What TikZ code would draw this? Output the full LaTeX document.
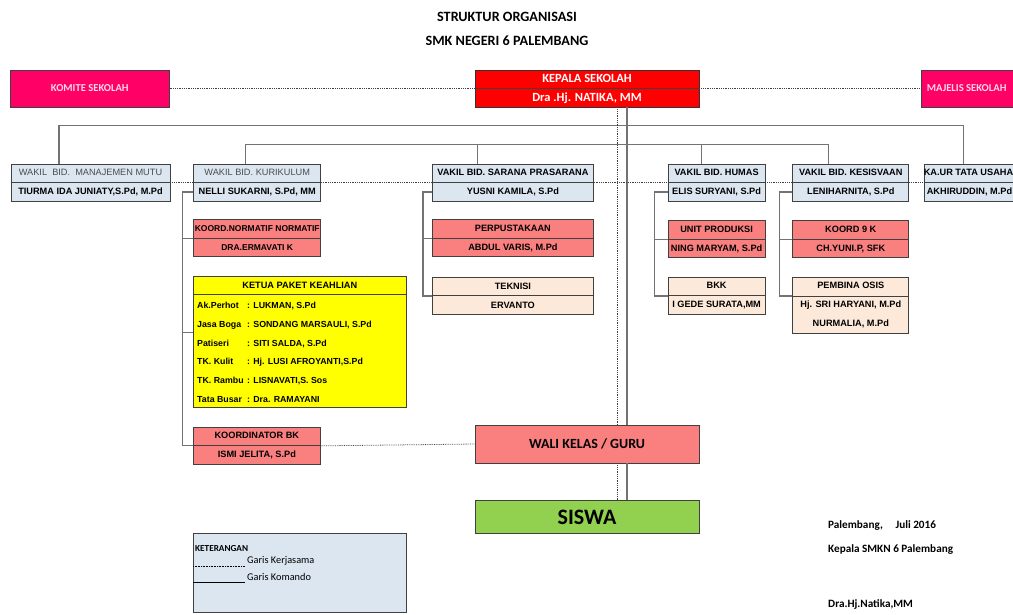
\documentclass[tikz,border=0pt]{standalone}
\usepackage{fontspec}
\setmainfont{Carlito}
\newfontfamily\boxfont{Liberation Sans}
\usetikzlibrary{positioning}
\definecolor{komitepink}{RGB}{255,0,102}
\definecolor{kepalared}{RGB}{255,0,0}
\definecolor{wakilblue}{RGB}{220,230,241}
\definecolor{salmon}{RGB}{250,128,128}
\definecolor{peach}{RGB}{253,233,217}
\definecolor{siswagreen}{RGB}{146,208,80}
\definecolor{kuning}{RGB}{255,255,0}

\begin{document}
\begin{tikzpicture}[x=1pt,y=-1pt,font=\bfseries,node distance=18pt]

	\tikzset{box/.style={draw=black!75, line width=0.7pt, inner sep=0pt,
			minimum height=37pt, align=center,
			font=\boxfont\bfseries\fontsize{9.2}{19}\selectfont}}
	\tikzset{wakil/.style={box, fill=wakilblue}}
	\tikzset{merah/.style={box, fill=salmon}}
	\tikzset{muda/.style={box, fill=peach}}
	\tikzset{atas/.style={box, fill=komitepink, minimum width=159pt,
			text=white!85!komitepink, font=\bfseries\fontsize{10.6}{19}\selectfont}}
	\tikzset{komando/.style={line width=1.2pt, draw=black!55}}
	\tikzset{kerja/.style={densely dotted, line width=0.8pt, draw=black!75}}
	\tikzset{pembagi/.style={line width=0.7pt, draw=black!75}}

	\useasboundingbox (0,0) rectangle (1013,614);
	\clip (0,0) rectangle (1013,614);

	% judul
	\node[font=\bfseries\fontsize{14.2}{16}\selectfont] (judul) at (507,17) {STRUKTUR ORGANISASI};
	\node[font=\bfseries\fontsize{14.2}{16}\selectfont] (judul2) at (507,41) {SMK NEGERI 6 PALEMBANG};

	% pimpinan
	\node[box, fill=kepalared, draw=black!80, minimum width=224pt, text=white,
		font=\bfseries\fontsize{12.5}{19}\selectfont] (kepala) at (587,88.5)
		{KEPALA SEKOLAH\\Dra .Hj. NATIKA, MM};
	\node[atas, left=305pt of kepala] (komite) {KOMITE SEKOLAH};
	\node[atas, right=222pt of kepala, minimum width=100pt] (majelis) {\hspace*{-10pt}MAJELIS SEKOLAH};

	% wakil
	\node[wakil, minimum width=159pt] (mutu) at (90.5,182.5)
		{{\mdseries\color{black!70}WAKIL\ \ BID.\ \ MANAJEMEN MUTU}\\TIURMA IDA JUNIATY,S.Pd, M.Pd};
	\node[wakil, minimum width=127pt, right=23pt of mutu] (kurikulum)
		{{\mdseries\color{black!70}WAKIL BID. KURIKULUM}\\NELLI SUKARNI, S.Pd, MM};
	\node[wakil, minimum width=161pt, right=111pt of kurikulum] (sarana)
		{VAKIL BID. SARANA PRASARANA\\YUSNI KAMILA, S.Pd};
	\node[wakil, minimum width=97pt, right=74pt of sarana] (humas)
		{VAKIL BID. HUMAS\\ELIS SURYANI, S.Pd};
	\node[wakil, minimum width=116pt, right=27pt of humas] (kesiswaan)
		{VAKIL BID. KESISVAAN\\LENIHARNITA, S.Pd};
	\node[wakil, minimum width=100pt, right=15pt of kesiswaan] (tatausaha)
		{\hspace*{-12pt}KA.UR TATA USAHA\\\hspace*{-10pt}AKHIRUDDIN, M.Pd};

	% bawahan
	\node[merah, minimum width=127pt, below=18pt of kurikulum,
		font=\boxfont\bfseries\fontsize{8.5}{19}\selectfont] (normatif)
		{KOORD.NORMATIF NORMATIF\\DRA.ERMAVATI K};
	\node[box, fill=kuning, minimum width=213pt, minimum height=131pt, anchor=north west] (paket) at (193,276) {};
	\node[box, draw=none, minimum height=18pt, anchor=north] (paketjudul) at (paket.north) {KETUA PAKET KEAHLIAN};
	\node[merah, minimum width=127pt, anchor=north west] (bk) at (193,427) {KOORDINATOR BK\\ISMI JELITA, S.Pd};

	\node[merah, minimum width=161pt, below=18pt of sarana] (perpus) {PERPUSTAKAAN\\ABDUL VARIS, M.Pd};
	\node[muda, minimum width=161pt, below=20pt of perpus] (teknisi) {TEKNISI\\ERVANTO};

	\node[merah, minimum width=97pt, below=19pt of humas] (produksi) {UNIT PRODUKSI\\NING MARYAM, S.Pd};
	\node[muda, minimum width=97pt, below=19pt of produksi] (bkk) {BKK\\I GEDE SURATA,MM};

	\node[merah, minimum width=116pt, below=19pt of kesiswaan] (koordk) {KOORD 9 K\\CH.YUNI.P, SFK};
	\node[muda, minimum width=116pt, minimum height=56pt, below=19pt of koordk] (osis)
		{PEMBINA OSIS\\Hj. SRI HARYANI, M.Pd\\NURMALIA, M.Pd};

	\node[box, fill=salmon, minimum width=224pt, minimum height=38pt,
		font=\bfseries\fontsize{14}{16}\selectfont] (wali) at (587,444) {WALI KELAS / GURU};
	\node[box, fill=siswagreen, minimum width=224pt, minimum height=33pt, below=37pt of wali,
		font=\bfseries\fontsize{22}{24}\selectfont] (siswa) {SISWA};

	% isi paket keahlian
	\foreach \i/\lab/\val in {0/Ak.Perhot/{LUKMAN, S.Pd}, 1/Jasa Boga/{SONDANG MARSAULI, S.Pd},
			2/Patiseri/{SITI SALDA, S.Pd}, 3/TK. Kulit/{Hj. LUSI AFROYANTI,S.Pd},
			4/TK. Rambu/{LISNAVATI,S. Sos}, 5/Tata Busar/{Dra. RAMAYANI}}
		\node[anchor=west, inner sep=0pt, font=\boxfont\bfseries\fontsize{8.8}{10}\selectfont]
			(baris\i) at (197,306+18.8*\i) {\makebox[50pt][l]{\lab}: \val};

	% garis pembagi
	\foreach \n in {kepala,mutu,kurikulum,sarana,humas,kesiswaan,tatausaha,normatif,bk,perpus,teknisi,produksi,bkk,koordk}
		\draw[pembagi] ([yshift=-18.5pt]\n.north west) -- ([yshift=-18.5pt]\n.north east);
	\draw[pembagi] ([yshift=-19pt]osis.north west) -- ([yshift=-19pt]osis.north east);
	\draw[pembagi] ([yshift=-18pt]paket.north west) -- ([yshift=-18pt]paket.north east);

	% garis komando
	\draw[komando] ([xshift=-31.5pt]mutu.north) -- ++(0,-38) -| ([xshift=-11pt]tatausaha.north);
	\draw[komando] ([xshift=-11.5pt]kurikulum.north) -- ++(0,-19) -| ([xshift=-22pt]kesiswaan.north);
	\draw[komando] ([xshift=-35.5pt]sarana.north) -- ++(0,-19);
	\draw[komando] ([xshift=-15.5pt]humas.north) -- ++(0,-19);
	\draw[komando] ([xshift=40pt]kepala.south) -- ([xshift=40pt]wali.north);
	\draw[komando] ([xshift=40pt]wali.south) -- ([xshift=40pt]siswa.north);

	\draw[komando] ([yshift=-9.5pt]kurikulum.west) -- ++(-11,0) |- (bk.west);
	\draw[komando] (normatif.west) -- ++(-11,0);
	\draw[komando] ([yshift=9.5pt]paket.west) -- ++(-11,0);
	\draw[komando] ([yshift=-9.5pt]sarana.west) -- ++(-9,0) |- (teknisi.west);
	\draw[komando] (perpus.west) -- ++(-9,0);
	\draw[komando] ([yshift=-9.5pt]humas.west) -- ++(-13,0) |- (bkk.west);
	\draw[komando] (produksi.west) -- ++(-13,0);
	\draw[komando] ([yshift=-9.5pt]kesiswaan.west) -- ++(-13,0) |- ([yshift=-19pt]osis.north west);
	\draw[komando] (koordk.west) -- ++(-13,0);

	% garis kerjasama
	\draw[kerja] (komite.east) -- (kepala.west);
	\draw[kerja] (kepala.east) -- (majelis.west);
	\draw[kerja] (mutu.east) -- (kurikulum.west);
	\draw[kerja] (kurikulum.east) -- (sarana.west);
	\draw[kerja] (sarana.east) -- (humas.west);
	\draw[kerja] (humas.east) -- (kesiswaan.west);
	\draw[kerja] (kesiswaan.east) -- (tatausaha.west);
	\draw[kerja] ([xshift=30pt]kepala.south) -- ([xshift=30pt]wali.north);
	\draw[kerja] ([xshift=30pt]wali.south) -- ([xshift=30pt]siswa.north);
	\draw[kerja] (bk.east) -- (wali.west);

	% keterangan
	\node[box, fill=wakilblue, minimum width=213pt, minimum height=79pt, anchor=north west] (ket) at (193,533) {};
	\node[anchor=west, inner sep=0pt, font=\bfseries\fontsize{9.2}{10}\selectfont] (ketjudul) at (195,549) {KETERANGAN};
	\coordinate (kerjaA) at (193,566);
	\coordinate (kerjaB) at (245,566);
	\coordinate (komandoA) at (193,582);
	\coordinate (komandoB) at (245,582);
	\draw[densely dotted, line width=0.6pt] (kerjaA) -- (kerjaB);
	\draw[line width=0.6pt] (komandoA) -- (komandoB);
	\node[anchor=west, inner sep=0pt, font=\mdseries\fontsize{10.3}{12}\selectfont] (ketkerja) at (247,561) {Garis Kerjasama};
	\node[anchor=west, inner sep=0pt, font=\mdseries\fontsize{10.3}{12}\selectfont] (ketkomando) at (247,577) {Garis Komando};

	% tanda tangan
	\node[anchor=west, inner sep=0pt, font=\bfseries\fontsize{11.2}{12}\selectfont] (tempat) at (828,526) {Palembang,\ \ \ \ \ Juli 2016};
	\node[anchor=west, inner sep=0pt, font=\bfseries\fontsize{11.2}{12}\selectfont] (jabatan) at (828,550) {Kepala SMKN 6 Palembang};
	\node[anchor=west, inner sep=0pt, font=\bfseries\fontsize{11.2}{12}\selectfont] (ttd) at (828,604) {Dra.Hj.Natika,MM};

\end{tikzpicture}
\end{document}
